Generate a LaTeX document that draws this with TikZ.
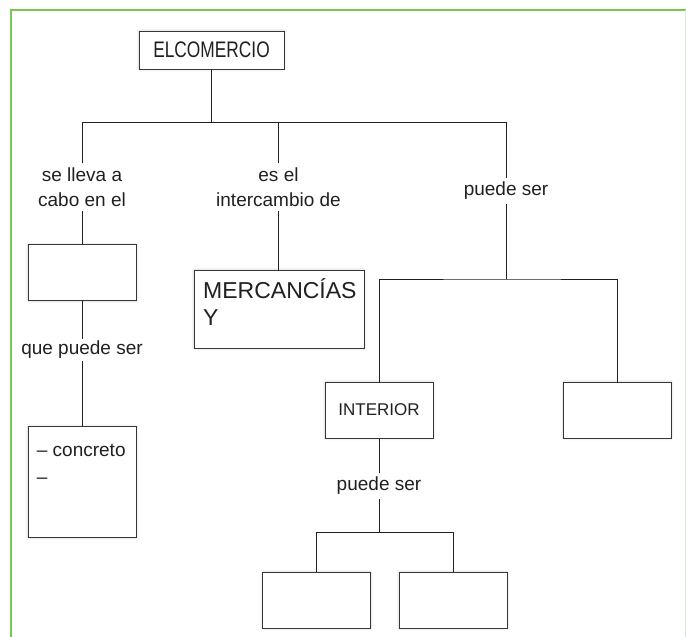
\documentclass[tikz,border=0pt]{standalone}
\usepackage{graphicx}
\usepackage{fontspec}
\setmainfont{Liberation Sans}
\usepackage{tikz}
\usetikzlibrary{positioning}
\usetikzlibrary{shadows.blur}
\usepackage{xcolor}
\definecolor{framegreen}{RGB}{122,198,82}
\definecolor{framepale}{RGB}{222,232,216}
\definecolor{ink}{RGB}{35,31,32}

\begin{document}
\begin{tikzpicture}[x=1pt,y=-1pt,
  box/.style={draw=ink!90, line width=1pt, fill=white, inner sep=0pt,
              blur shadow={shadow xshift=0pt, shadow yshift=0pt, shadow blur radius=2.5pt, shadow opacity=22}},
  smallbox/.style={box, minimum width=108pt, minimum height=56pt},
  lbl/.style={text=ink, font=\fontsize{19}{25.5}\selectfont, align=center, inner sep=4pt},
  conn/.style={draw=ink, line width=0.8pt}]

\useasboundingbox (0,0) rectangle (686,637);

% frame
\draw[framegreen, line width=1.6pt] (11,637)--(11,10)--(686,10);
\draw[framepale, line width=0.6pt] (685,10)--(685,637);

% boxes
\node[box, minimum width=145pt, minimum height=38pt, text=ink,
      font=\fontsize{22.5}{27}\selectfont] (comercio) at (211.5,50)
      {\scalebox{0.77}[1]{ELCOMERCIO}};

\node[smallbox] (lugar) at (82,272.8) {};
\node[box, minimum width=108pt, minimum height=111pt] (tipos) at (82,482.2) {};
\node[box, minimum width=170pt, minimum height=78pt] (mercancias) at (279,309) {};
\node[smallbox, text=ink, font=\fontsize{17}{20}\selectfont] (interior) at (379,410) {INTERIOR};
\node[smallbox] (exterior) at (617.3,410) {};
\node[smallbox] (bajoA) at (316.7,600.2) {};
\node[smallbox] (bajoB) at (453.2,600.2) {};

% texts in boxes
\node[anchor=base west, inner sep=0pt, text=ink, font=\fontsize{23}{27}\selectfont] (mercTxt) at (203,298)
      {\begin{tabular}[t]{@{}l@{}}MERCANCÍAS\\Y\end{tabular}};
\node[anchor=base west, inner sep=0pt, text=ink, font=\fontsize{19}{27}\selectfont] (tiposTxt) at (36.7,456)
      {\begin{tabular}[t]{@{}l@{}}– concreto\\–\end{tabular}};

% labels
\node[lbl] (lleva) at (82,187.4) {se lleva a\\cabo en el};
\node[lbl] (cambio) at (278.5,187.4) {es el\\intercambio de};
\node[lbl] (puede) at (506,191) {puede ser};
\node[lbl, inner sep=2pt] (quepuede) at (82,350) {que puede ser};
\node[lbl] (puedeB) at (379,485.7) {puede ser};

\coordinate (hubA) at (211.5,122);
\coordinate (hubB) at (506,279);
\coordinate (hubC) at (379,532.3);

% connectors
\draw[conn] (comercio.south) -- (hubA);
\draw[conn] (lleva.north) -- (lleva.north |- hubA) -- (puede.north |- hubA) -- (puede.north);
\draw[conn] (cambio.north) -- (cambio.north |- hubA);

\draw[conn] (lleva.south) -- (lleva.south |- lugar.north);
\draw[conn] (lugar.south) -- (quepuede.north -| lugar.south);
\draw[conn] (quepuede.south -| tipos.north) -- (tipos.north);

\draw[conn] (cambio.south) -- (cambio.south |- mercancias.north);

\draw[conn] (puede.south) -- (hubB);
\draw[conn] (interior.north) |- (hubB) -| (exterior.north);

\draw[conn] (interior.south) -- (puedeB.north);
\draw[conn] (puedeB.south) -- (hubC);
\draw[conn] (bajoA.north) |- (hubC) -| (bajoB.north);

\end{tikzpicture}
\end{document}
